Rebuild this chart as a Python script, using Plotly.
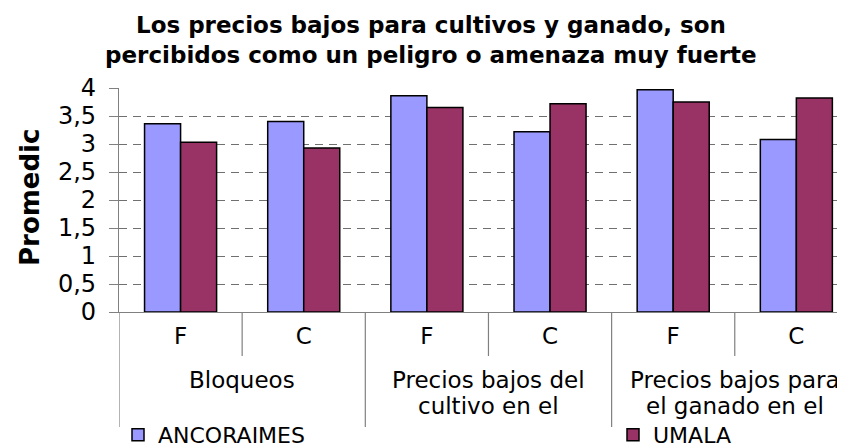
import plotly.graph_objects as go

# ---- data ----
title_lines = ["Los precios bajos para cultivos y ganado, son",
               "percibidos como un peligro o amenaza muy fuerte"]
group_lines = [["Bloqueos"],
               ["Precios bajos del", "cultivo en el"],
               ["Precios bajos para", "el ganado en el"]]
categories = ["Bloqueos F", "Bloqueos C", "Cultivo F", "Cultivo C", "Ganado F", "Ganado C"]
tick_labels = ["F", "C", "F", "C", "F", "C"]
ancoraimes = [3.36, 3.40, 3.86, 3.22, 3.97, 3.08]
umala = [3.03, 2.93, 3.65, 3.72, 3.75, 3.82]
y_ticks = [0, 0.5, 1, 1.5, 2, 2.5, 3, 3.5, 4]
y_tick_text = ["0", "0,5", "1", "1,5", "2", "2,5", "3", "3,5", "4"]
y_title = "Promedic"

FONT = "DejaVu Sans"
W, H = 845, 447
ML, MR, MT, MB = 111, 0, 80, 143
plot_h = H - MT - MB
plot_w = W - ML - MR

def py_to_paper(py):
    return (H - MB - py) / plot_h

def px_to_paper(px):
    return (px - ML) / plot_w

fig = go.Figure()
fig.add_trace(go.Bar(x=categories, y=ancoraimes, name="ANCORAIMES",
                     marker=dict(color="#9999FF", line=dict(color="black", width=1.5)),
                     legend="legend"))
fig.add_trace(go.Bar(x=categories, y=umala, name="UMALA",
                     marker=dict(color="#993366", line=dict(color="black", width=1.5)),
                     legend="legend2"))

shapes = []
for i in range(len(group_lines)):
    xi = 2 * i + 0.5
    shapes.append(dict(type="line", xref="x", yref="paper", x0=xi, x1=xi,
                       y0=0, y1=py_to_paper(348), line=dict(color="#808080", width=1.2)))
for i in range(len(group_lines) + 1):
    xg = 2 * i - 0.5
    shapes.append(dict(type="line", xref="x", yref="paper", x0=xg, x1=xg,
                       y0=0, y1=py_to_paper(419), line=dict(color="#808080", width=1.2)))

annotations = []
for i, lines in enumerate(group_lines):
    for j, line in enumerate(lines):
        annotations.append(dict(text=line, xref="x", yref="paper", x=2 * i + 0.5,
                                y=py_to_paper(372 + 26 * j), yanchor="middle", xanchor="center",
                                showarrow=False, font=dict(family=FONT, size=23, color="black")))
for j, line in enumerate(title_lines):
    annotations.append(dict(text="<b>" + line + "</b>", xref="paper", yref="paper",
                            x=px_to_paper(423), y=py_to_paper(17 + 30 * j),
                            xanchor="center", yanchor="middle", showarrow=False,
                            font=dict(family=FONT, size=23, color="black")))
annotations.append(dict(text="<b>" + y_title + "</b>", xref="paper", yref="paper",
                        x=px_to_paper(22), y=py_to_paper(190),
                        xanchor="center", yanchor="middle", textangle=-90,
                        showarrow=False, font=dict(family=FONT, size=26, color="black")))

leg_common = dict(orientation="h", xref="container", yref="container",
                  yanchor="middle", xanchor="left", bgcolor="rgba(0,0,0,0)",
                  font=dict(family=FONT, size=22, color="black"))
fig.update_layout(
    width=W, height=H,
    margin=dict(l=ML, r=MR, t=MT, b=MB),
    paper_bgcolor="white", plot_bgcolor="white",
    barmode="group", bargap=0.415, bargroupgap=0,
    font=dict(family=FONT, color="black"),
    shapes=shapes, annotations=annotations,
    showlegend=True,
    legend=dict(x=110 / W, y=1 - 427 / H, **leg_common),
    legend2=dict(x=605 / W, y=1 - 427 / H, **leg_common),
)
fig.update_xaxes(type="category", range=[-0.5, 5.46], tickvals=categories, ticktext=tick_labels,
                 showline=True, linecolor="#808080", linewidth=1.2, ticks="outside",
                 ticklen=3, tickcolor="rgba(0,0,0,0)", showgrid=False,
                 tickfont=dict(family=FONT, size=23, color="black"), fixedrange=True)
fig.update_yaxes(range=[0, 4], tickvals=y_ticks, ticktext=y_tick_text,
                 showline=True, linecolor="#808080", linewidth=1.2,
                 ticks="outside", ticklen=9, tickcolor="#808080",
                 ticklabelstandoff=8,
                 showgrid=True, gridcolor="#707070", gridwidth=1, griddash="8px,6px",
                 zeroline=False, tickfont=dict(family=FONT, size=24, color="black"), fixedrange=True)

fig.write_html("out.html")
